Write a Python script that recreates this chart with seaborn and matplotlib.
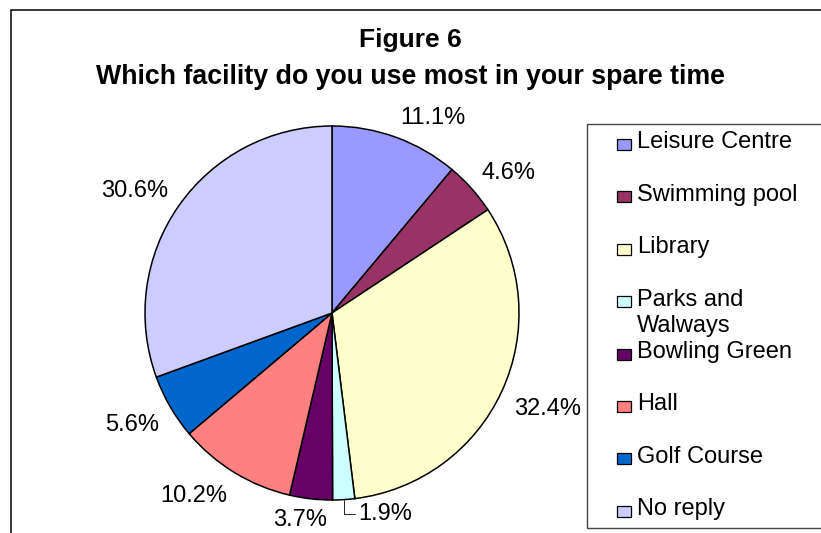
import numpy as np
import matplotlib
matplotlib.use("Agg")
import matplotlib.pyplot as plt
import seaborn as sns
from matplotlib.patches import Rectangle

sns.set_theme(style="white")
plt.rcParams['font.family'] = ['Liberation Sans', 'DejaVu Sans']
plt.rcParams['text.color'] = 'black'

categories = ["Leisure Centre", "Swimming pool", "Library", "Parks and\nWalways",
              "Bowling Green", "Hall", "Golf Course", "No reply"]
values = [11.1, 4.6, 32.4, 1.9, 3.7, 10.2, 5.6, 30.6]
colors = ["#9999FF", "#993366", "#FFFFCC", "#CCFFFF", "#660066", "#FF8080", "#0066CC", "#CCCCFF"]
title_lines = ["Figure 6", "Which facility do you use most in your spare time"]

W, H = 821, 533
fig = plt.figure(figsize=(W / 100, H / 100), dpi=100)
renderer = fig.canvas.get_renderer()

# outer chart frame
fig.patches.append(Rectangle((11 / W, -0.1), 2, 1 - 10 / H + 0.1, transform=fig.transFigure,
                             fill=False, edgecolor="black", linewidth=1.1, zorder=0))

cx, cy, R = 332, 313, 187
ax = fig.add_axes([(cx - R) / W, (H - cy - R) / H, 2 * R / W, 2 * R / H])
wedges, texts = ax.pie(values, colors=colors, startangle=90, counterclock=False,
                       radius=1.0, wedgeprops=dict(edgecolor="black", linewidth=1.1))
ax.set_xlim(-1, 1)
ax.set_ylim(-1, 1)
ax.set_aspect("equal")
ax.axis("off")

LFS = 17
small_idx = int(np.argmin(values))
for i, (w, v) in enumerate(zip(wedges, values)):
    ang = np.deg2rad((w.theta1 + w.theta2) / 2)
    c, s = np.cos(ang), np.sin(ang)
    lab = f"{v:.1f}%"
    if i == small_idx:
        ax.annotate(lab, xy=(c, s), xytext=(c + 0.08, s - 0.075),
                    fontsize=LFS, ha="left", va="center", annotation_clip=False,
                    arrowprops=dict(arrowstyle="-", color="black", lw=0.6,
                                    connectionstyle="angle,angleA=0,angleB=90,rad=0",
                                    shrinkA=0, shrinkB=0))
    else:
        # measure label width to place its nearest corner just outside the pie
        tmp = fig.text(0, 0, lab, fontsize=LFS)
        tw = tmp.get_window_extent(renderer).width
        tmp.remove()
        th = 19
        ux = np.clip(3 * c, -1, 1)
        uy = np.clip(3 * s, -1, 1)
        r = 1.07
        off = [ux * tw / 2, uy * th / 2]
        ann = ax.annotate(lab, xy=(r * c, r * s), xytext=tuple(off),
                          textcoords="offset pixels", fontsize=LFS, annotation_clip=False,
                          ha="center", va="center_baseline")
        bb = ann.get_window_extent(renderer)
        if bb.y0 < 2:
            off[1] += 2 - bb.y0
            ann.set_position(tuple(off))

fig.text(0.5, 1 - 40 / H, title_lines[0], ha="center", va="center",
         fontsize=19, fontweight="bold")
fig.text(0.5, 1 - 77 / H, title_lines[1], ha="center", va="center",
         fontsize=19.3, fontweight="bold")

# legend box
lx0, ly0, ly1 = 587, 124, 528
fig.patches.append(Rectangle((lx0 / W, 1 - ly1 / H), 1, (ly1 - ly0) / H,
                             transform=fig.transFigure, fill=False,
                             edgecolor="#444444", linewidth=1.0, zorder=1))
for i, (lab, col) in enumerate(zip(categories, colors)):
    yc = 141 + i * 52.4
    fig.patches.append(Rectangle((617 / W, 1 - (yc + 9) / H), 14 / W, 11 / H,
                                 transform=fig.transFigure, facecolor=col,
                                 edgecolor="black", linewidth=0.9, zorder=2))
    fig.text(637 / W, 1 - (yc - 9.5) / H, lab, ha="left", va="top", fontsize=LFS,
             linespacing=1.25)

fig.savefig("out.png", dpi=100)
